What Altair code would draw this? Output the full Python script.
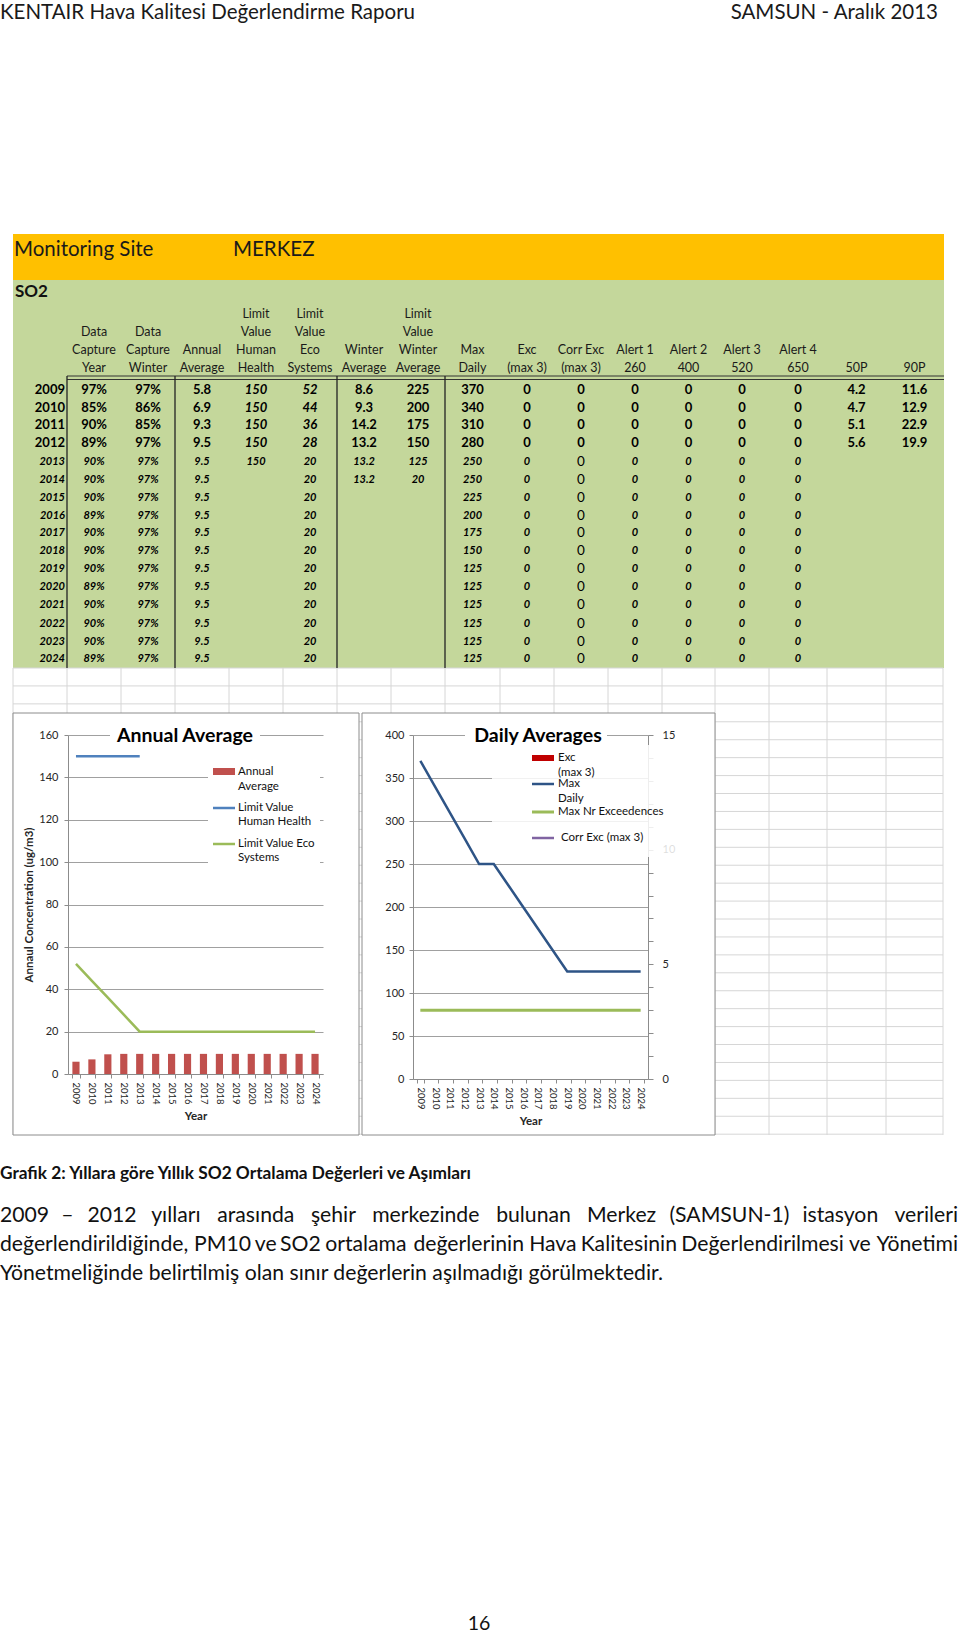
import altair as alt
import pandas as pd

# ------------------------------------------------------------------ data
years = [2009, 2010, 2011, 2012, 2013, 2014, 2015, 2016, 2017, 2018, 2019, 2020, 2021, 2022, 2023, 2024]
data_capture_year = ["97%", "85%", "90%", "89%", "90%", "90%", "90%", "89%", "90%", "90%", "90%", "89%", "90%", "90%", "90%", "89%"]
data_capture_winter = ["97%", "86%", "85%", "97%", "97%", "97%", "97%", "97%", "97%", "97%", "97%", "97%", "97%", "97%", "97%", "97%"]
annual_average = [5.8, 6.9, 9.3, 9.5, 9.5, 9.5, 9.5, 9.5, 9.5, 9.5, 9.5, 9.5, 9.5, 9.5, 9.5, 9.5]
limit_human_health = [150, 150, 150, 150, 150, None, None, None, None, None, None, None, None, None, None, None]
limit_eco_systems = [52, 44, 36, 28, 20, 20, 20, 20, 20, 20, 20, 20, 20, 20, 20, 20]
winter_average = [8.6, 9.3, 14.2, 13.2, 13.2, 13.2, None, None, None, None, None, None, None, None, None, None]
limit_winter_average = [225, 200, 175, 150, 125, 20, None, None, None, None, None, None, None, None, None, None]
max_daily = [370, 340, 310, 280, 250, 250, 225, 200, 175, 150, 125, 125, 125, 125, 125, 125]
exc_max3 = [0, 0, 0, 0, 0, 0, 0, 0, 0, 0, 0, 0, 0, 0, 0, 0]
corr_exc_max3 = [0, 0, 0, 0, 0, 0, 0, 0, 0, 0, 0, 0, 0, 0, 0, 0]
alert_1 = [0, 0, 0, 0, 0, 0, 0, 0, 0, 0, 0, 0, 0, 0, 0, 0]
alert_2 = [0, 0, 0, 0, 0, 0, 0, 0, 0, 0, 0, 0, 0, 0, 0, 0]
alert_3 = [0, 0, 0, 0, 0, 0, 0, 0, 0, 0, 0, 0, 0, 0, 0, 0]
alert_4 = [0, 0, 0, 0, 0, 0, 0, 0, 0, 0, 0, 0, 0, 0, 0, 0]
p50 = [4.2, 4.7, 5.1, 5.6, None, None, None, None, None, None, None, None, None, None, None, None]
p90 = [11.6, 12.9, 22.9, 19.9, None, None, None, None, None, None, None, None, None, None, None, None]
max_nr_exceedences = [3, 3, 3, 3, 3, 3, 3, 3, 3, 3, 3, 3, 3, 3, 3, 3]

header_labels = [
    ["Data", "Capture", "Year"], ["Data", "Capture", "Winter"], ["Annual", "Average"],
    ["Limit", "Value", "Human", "Health"], ["Limit", "Value", "Eco", "Systems"],
    ["Winter", "Average"], ["Limit", "Value", "Winter", "Average"], ["Max", "Daily"],
    ["Exc", "(max 3)"], ["Corr Exc", "(max 3)"], ["Alert 1", "260"], ["Alert 2", "400"],
    ["Alert 3", "520"], ["Alert 4", "650"], ["50P"], ["90P"],
]
table_columns = [data_capture_year, data_capture_winter, annual_average, limit_human_health,
                 limit_eco_systems, winter_average, limit_winter_average, max_daily, exc_max3,
                 corr_exc_max3, alert_1, alert_2, alert_3, alert_4, p50, p90]

page_header_left = "KENTAIR Hava Kalitesi Değerlendirme Raporu"
page_header_right = "SAMSUN - Aralık 2013"
caption = "Grafik 2: Yıllara göre Yıllık SO2 Ortalama Değerleri ve Aşımları"
para_line1 = ["2009", "–", "2012", "yılları", "arasında", "şehir", "merkezinde", "bulunan",
              "Merkez", "(SAMSUN-1)", "istasyon", "verileri"]
para_line2 = ["değerlendirildiğinde,", "PM10", "ve", "SO2", "ortalama", "değerlerinin", "Hava",
              "Kalitesinin", "Değerlendirilmesi", "ve", "Yönetimi"]
para_line3 = "Yönetmeliğinde belirtilmiş olan sınır değerlerin aşılmadığı görülmektedir."

# ------------------------------------------------------------------ layout (pixels)
FONT = "Lato"
COL_BOUNDS = [67, 121, 175, 229, 283, 337, 391, 445, 500, 554, 608, 662, 715, 769, 827, 886, 943]
COL_X = [(a + b) / 2 for a, b in zip(COL_BOUNDS[:-1], COL_BOUNDS[1:])]
ROW_Y = [390, 407.5, 425, 442.5, 462, 480, 497.5, 515.5, 533, 551, 569, 587, 605, 623.5, 641.5, 659]
HEAD_Y = [314, 332, 350, 368]
# centres of the inner words of the two justified lines (first word flush left, last flush right)
LINE1_C = [67.5, 112, 175.8, 255.8, 333.4, 425.8, 533.5, 621.6, 729.4, 840.3]
LINE2_C = [222.5, 265.7, 300.4, 365.9, 468.7, 552.9, 628.8, 762.6, 859.8]
PARA_SIZE = 21.2
GRID_Y = [668 + 17.93 * k for k in range(0, 27)]
GRID_X = [13] + COL_BOUNDS

one = pd.DataFrame({"k": [0]})


def txt(s, x, y, size=11, weight="normal", style="normal", align="left", color="#111111"):
    return alt.Chart(one).mark_text(
        text=s, align=align, baseline="middle", fontSize=size, fontWeight=weight,
        fontStyle=style, color=color, font=FONT
    ).encode(x=alt.value(x), y=alt.value(y))


def box(x0, x1, y0, y1, fill, stroke=None, fill_opacity=1.0):
    kw = dict(fill=fill, fillOpacity=fill_opacity)
    if stroke:
        kw.update(stroke=stroke, strokeWidth=1)
    else:
        kw.update(strokeWidth=0)
    return alt.Chart(one).mark_rect(**kw).encode(
        x=alt.value(x0), x2=alt.value(x1), y=alt.value(y0), y2=alt.value(y1))


def hline(x0, x1, y, color, width):
    return alt.Chart(one).mark_rule(color=color, strokeWidth=width).encode(
        x=alt.value(x0), x2=alt.value(x1), y=alt.value(y))


def vline(x, y0, y1, color, width):
    return alt.Chart(one).mark_rule(color=color, strokeWidth=width).encode(
        x=alt.value(x), y=alt.value(y0), y2=alt.value(y1))


def fmt(v):
    if isinstance(v, str):
        return v
    if isinstance(v, float):
        return f"{v:.1f}"
    return str(v)


def justified(words, centres, y):
    out = [txt(words[0], 0, y, size=PARA_SIZE)]
    out += [txt(w, c, y, size=PARA_SIZE, align="center") for w, c in zip(words[1:-1], centres)]
    out.append(txt(words[-1], 958, y, size=PARA_SIZE, align="right"))
    return out


# ------------------------------------------------------------------ table text
head_rows = []
for j, lines in enumerate(header_labels):
    for k, line in enumerate(lines):
        head_rows.append({"t": line, "px": COL_X[j], "py": HEAD_Y[4 - len(lines) + k]})
head_df = pd.DataFrame(head_rows)

cells = []
for i, yr in enumerate(years):
    for j, col in enumerate(table_columns):
        v = col[i]
        if v is None:
            continue
        if i < 4:
            g = "bi13" if j in (3, 4) else "b13"
        else:
            g = "n13" if j == 9 else "bi11"
        cells.append({"t": fmt(v), "px": COL_X[j], "py": ROW_Y[i], "g": g})
    cells.append({"t": str(yr), "px": 65, "py": ROW_Y[i], "g": "yb" if i < 4 else "ybi"})
cell_df = pd.DataFrame(cells)


def text_layer(df, size, weight, style, align="center", color="#000000"):
    return alt.Chart(df).mark_text(
        align=align, baseline="middle", fontSize=size, fontWeight=weight, fontStyle=style,
        color=color, font=FONT
    ).encode(x=alt.X("px:Q", scale=None, axis=None), y=alt.Y("py:Q", scale=None, axis=None),
             text="t:N")


def grp(g):
    return cell_df[cell_df["g"] == g]


grid_h = alt.Chart(pd.DataFrame({"gy": GRID_Y})).mark_rule(color="#D6D6D6", strokeWidth=1).encode(
    y=alt.Y("gy:Q", scale=None, axis=None), x=alt.value(13), x2=alt.value(943))
grid_v = alt.Chart(pd.DataFrame({"gx": GRID_X})).mark_rule(color="#D6D6D6", strokeWidth=1).encode(
    x=alt.X("gx:Q", scale=None, axis=None), y=alt.value(668), y2=alt.value(1135))

layers_a = [
    box(13, 944, 234, 280, "#FFC000"),
    box(13, 944, 280, 668, "#C4D79B"),
    grid_h, grid_v,
    box(13, 359, 713, 1135, "#FFFFFF", stroke="#8C8C8C"),
    box(362, 715, 713, 1135, "#FFFFFF", stroke="#8C8C8C"),
    hline(67, 944, 376, "#333333", 1), hline(67, 944, 379.5, "#333333", 1),
    vline(67, 376, 668, "#222222", 1.3), vline(175, 376, 668, "#222222", 1.3),
    vline(337, 376, 668, "#222222", 1.3), vline(445, 376, 668, "#222222", 1.3),
    txt(page_header_left, 0, 13, size=20.5, color="#1a1a1a"),
    txt(page_header_right, 938, 13, size=20.5, align="right", color="#1a1a1a"),
    txt("Monitoring Site", 14, 250, size=20.5, color="#1a1a1a"),
    txt("MERKEZ", 233, 250, size=20.5, color="#1a1a1a"),
    txt("SO2", 15, 292, size=17, weight="bold"),
    text_layer(head_df, 12.5, "normal", "normal", color="#1a1a1a"),
    text_layer(grp("b13"), 13, "bold", "normal"),
    text_layer(grp("bi13"), 13, "bold", "italic"),
    text_layer(grp("bi11"), 11, "bold", "italic"),
    text_layer(grp("n13"), 13.5, "normal", "normal"),
    text_layer(grp("yb"), 13, "bold", "normal", align="right"),
    text_layer(grp("ybi"), 11, "bold", "italic", align="right"),
    txt(caption, 0, 1174, size=17.3, weight="bold"),
    *justified(para_line1, LINE1_C, 1216),
    *justified(para_line2, LINE2_C, 1245),
    txt(para_line3, 0, 1274, size=PARA_SIZE),
    txt("16", 479, 1624, size=19.5, align="center"),
]
chart_a = alt.layer(*layers_a).properties(width=960, height=735)

# ------------------------------------------------------------------ left chart
AX = "#8C8C8C"
GRID = "#A0A0A0"
LBL = "#262626"
xs = alt.Scale(paddingInner=0.55, paddingOuter=0.275)


def x_axis():
    return alt.Axis(title="Year", labelAngle=90, tickBand="extent", labelFontSize=9.5,
                    titleFontSize=11.5, titleFontWeight="bold", domainColor=AX, tickColor=AX,
                    tickSize=4, labelPadding=4, titlePadding=6, labelColor=LBL, titleColor=LBL,
                    grid=False, labelFont=FONT, titleFont=FONT)


left_df = pd.DataFrame({"Year": years, "Annual": annual_average,
                        "HH": limit_human_health, "Eco": limit_eco_systems})
ys_left = alt.Scale(domain=[0, 160])


def y_axis_left():
    return alt.Axis(values=list(range(0, 161, 20)), title="Annaul Concentration (ug/m3)",
                    grid=True, gridColor=GRID, domainColor=AX, tickColor=AX, tickSize=4,
                    labelPadding=6, labelFontSize=11, titleFontSize=11.5,
                    titleFontWeight="bold", titlePadding=4, labelColor=LBL, titleColor=LBL,
                    labelFont=FONT, titleFont=FONT)


bars = alt.Chart(left_df).mark_bar(color="#C0504D").encode(
    x=alt.X("Year:O", scale=xs, axis=x_axis()),
    y=alt.Y("Annual:Q", scale=ys_left, axis=y_axis_left()))
hh_line = alt.Chart(left_df).mark_line(color="#4F81BD", strokeWidth=2.5).encode(
    x=alt.X("Year:O", scale=xs, axis=x_axis(), bandPosition=0.5),
    y=alt.Y("HH:Q", scale=ys_left, axis=y_axis_left()))
eco_line = alt.Chart(left_df).mark_line(color="#9BBB59", strokeWidth=2.5).encode(
    x=alt.X("Year:O", scale=xs, axis=x_axis(), bandPosition=0.5),
    y=alt.Y("Eco:Q", scale=ys_left, axis=y_axis_left()))

left_chart = alt.layer(
    box(42, 192, -10, 12, "#FFFFFF"),
    box(140, 252, 28, 128, "#FFFFFF"),
    bars, hh_line, eco_line,
    txt("Annual Average", 117, 1, size=19.5, weight="bold", align="center", color="#000000"),
    box(145, 167, 33, 40, "#C0504D"),
    txt("Annual", 170, 37, size=11.5), txt("Average", 170, 52, size=11.5),
    hline(145, 167, 73, "#4F81BD", 2.5),
    txt("Limit Value", 170, 73, size=11.5), txt("Human Health", 170, 87, size=11.5),
    hline(145, 167, 109, "#9BBB59", 2.5),
    txt("Limit Value Eco", 170, 109, size=11.5), txt("Systems", 170, 123, size=11.5),
).properties(width=255, height=339)

# ------------------------------------------------------------------ right chart
right_df = pd.DataFrame({"Year": years, "MaxDaily": max_daily, "MaxNr": max_nr_exceedences,
                         "Exc": exc_max3, "CorrExc": corr_exc_max3})

daily_line = alt.Chart(right_df).mark_line(color="#2E5486", strokeWidth=2.5).encode(
    x=alt.X("Year:O", scale=xs, axis=x_axis(), bandPosition=0.5),
    y=alt.Y("MaxDaily:Q", scale=alt.Scale(domain=[0, 400]),
            axis=alt.Axis(values=list(range(0, 401, 50)), title=None, grid=True, gridColor=GRID,
                          domainColor=AX, tickColor=AX, tickSize=4, labelPadding=5,
                          labelFontSize=11, labelColor=LBL, labelFont=FONT)))
nr_line = alt.Chart(right_df).mark_line(color="#9BBB59", strokeWidth=3).encode(
    x=alt.X("Year:O", scale=xs, axis=x_axis(), bandPosition=0.5),
    y=alt.Y("MaxNr:Q", scale=alt.Scale(domain=[0, 15]),
            axis=alt.Axis(orient="right", values=list(range(0, 16)), title=None, grid=False,
                          labelExpr="datum.value % 5 === 0 ? datum.label : ''",
                          domainColor=AX, tickColor=AX, tickSize=5, labelPadding=9,
                          labelFontSize=11, labelColor=LBL, labelFont=FONT)))

right_chart = alt.layer(
    box(52, 194, -10, 12, "#FFFFFF"),
    daily_line, nr_line,
    box(79, 265, 10, 122, "#FFFFFF", fill_opacity=0.85),
    txt("Daily Averages", 125, 1, size=19.5, weight="bold", align="center", color="#000000"),
    box(119, 141, 20, 26, "#C00000"),
    txt("Exc", 145, 23, size=11.5), txt("(max 3)", 145, 38, size=11.5),
    hline(119, 141, 49, "#2E5486", 2.5),
    txt("Max", 145, 49, size=11.5), txt("Daily", 145, 64, size=11.5),
    hline(119, 141, 77, "#9BBB59", 3),
    txt("Max Nr Exceedences", 145, 77, size=11.5),
    hline(119, 141, 103, "#8064A2", 2.5),
    txt("Corr Exc (max 3)", 148, 103, size=11.5),
).resolve_scale(y="independent").properties(width=235, height=344)

spacer1 = alt.Chart(one).mark_text(text="").properties(width=68, height=10)
spacer2 = alt.Chart(one).mark_text(text="").properties(width=90, height=10)

row_b = alt.hconcat(spacer1, left_chart, spacer2, right_chart, spacing=0, bounds="flush")

chart = alt.vconcat(chart_a, row_b, spacing=0, bounds="flush").properties(
    padding=0, background="white"
).configure(font=FONT).configure_view(stroke=None)

chart.save("out.html", embed_options={"renderer": "svg", "actions": False})
